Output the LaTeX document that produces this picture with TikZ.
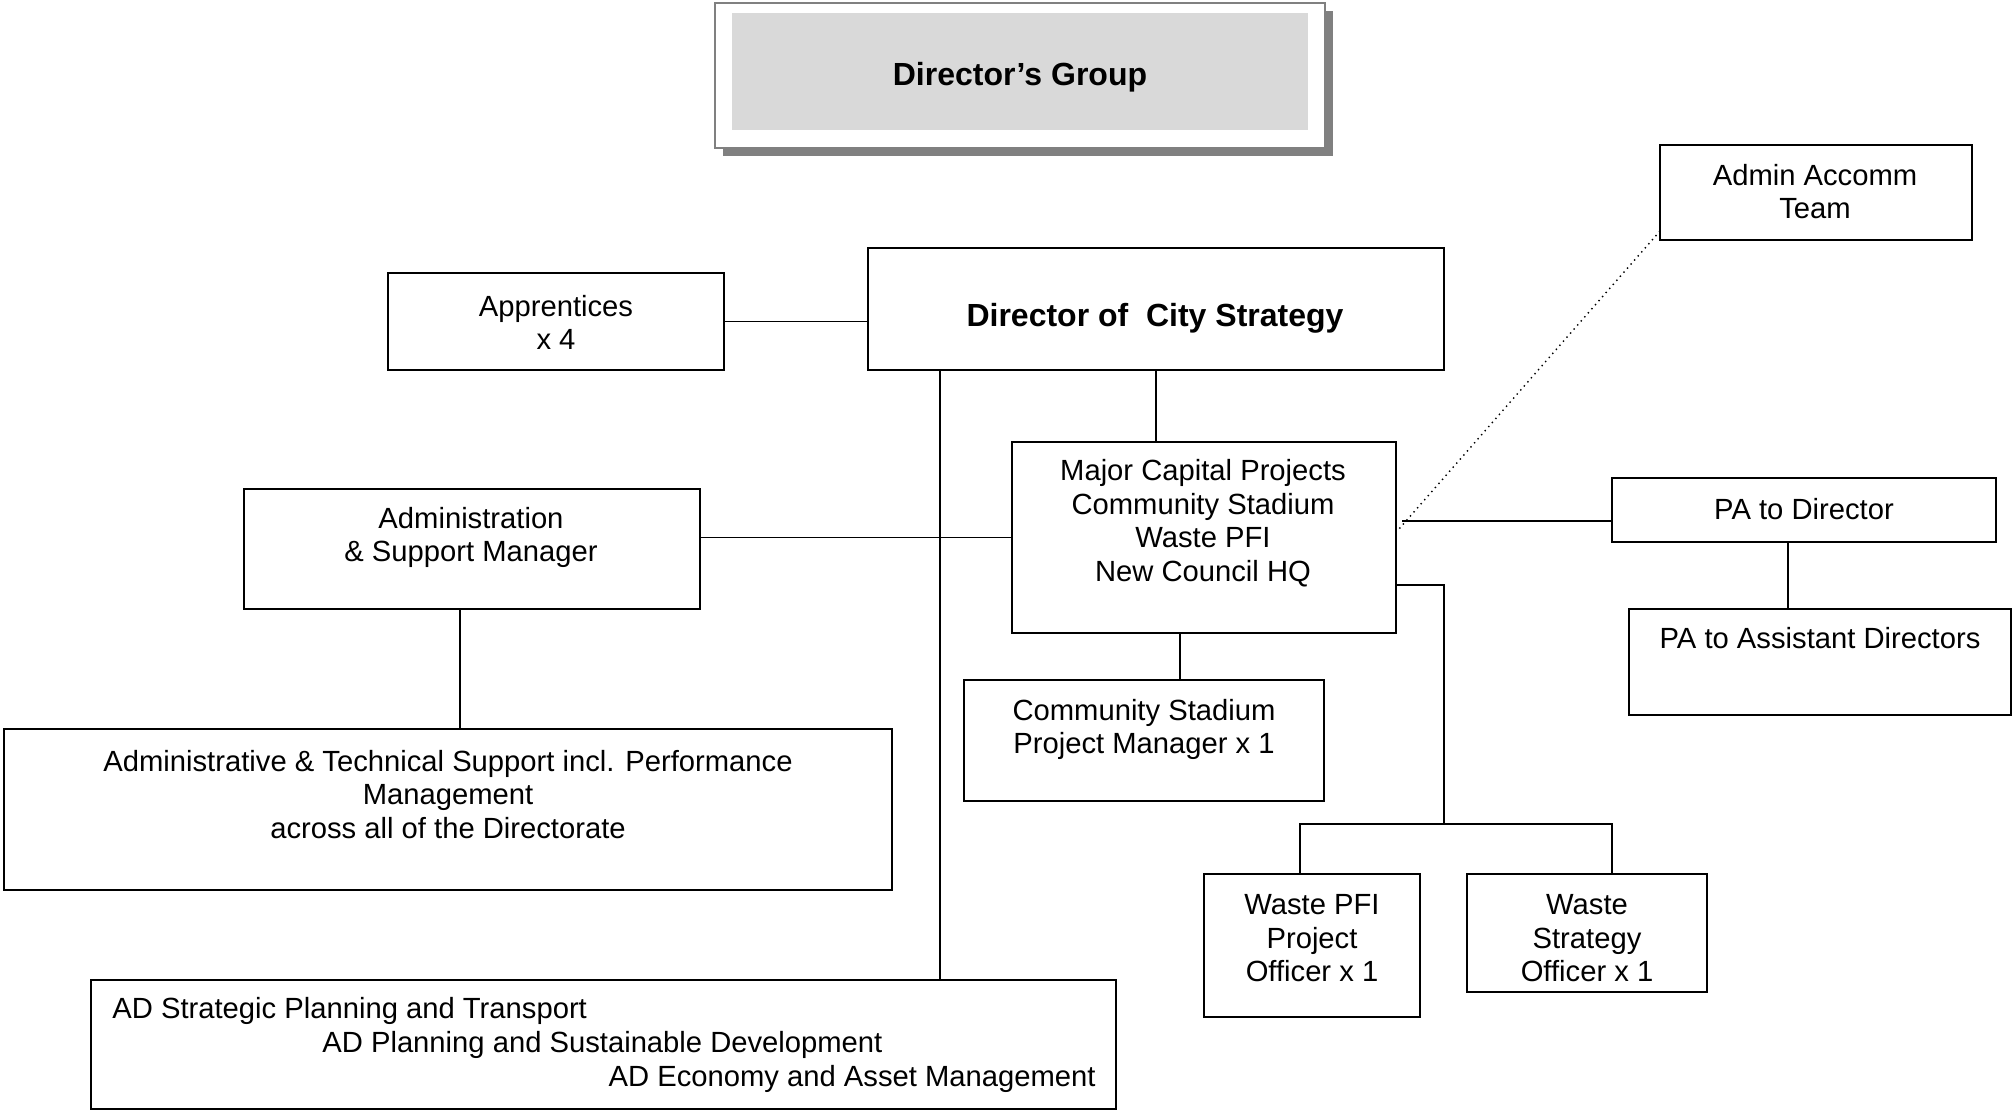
\documentclass[tikz,border=0pt]{standalone}
\usepackage{fontspec}
\setmainfont{Liberation Sans}
\usetikzlibrary{calc}
\begin{document}
\begin{tikzpicture}[x=0.5pt,y=-0.5pt,
  box/.style={draw=black, line width=1pt, inner sep=0pt, fill=white},
  txt/.style={align=center, inner sep=0pt, yshift=-1.6pt, font=\fontsize{14.6}{16.7}\selectfont},
  btxt/.style={align=center, inner sep=0pt, yshift=-1.4pt, font=\fontsize{16}{18}\selectfont\bfseries},
  conn/.style={line width=0.95pt, draw=black}]
\useasboundingbox (0,0) rectangle (2013,1111);
% Director's Group
\fill[black!50] (723,11) rectangle (1333,156);
\node[draw=black!50, line width=1pt, fill=white, inner sep=0pt, minimum width=305pt, minimum height=72.5pt] (grp) at (1020,75.5) {};
\node[fill=black!15, inner sep=0pt, minimum width=288pt, minimum height=58.5pt] (grpin) at (1020,71.5) {};
\node[btxt] (grpT) at (1020,74) {Director’s Group};
% boxes
\node[box, minimum width=168pt, minimum height=48.5pt] (appr) at (556,321.5) {};
\node[box, minimum width=288pt, minimum height=61pt] (dir) at (1156,309) {};
\node[box, minimum width=192pt, minimum height=95.5pt] (major) at (1204,537.5) {};
\node[box, minimum width=228pt, minimum height=60pt] (adm) at (472,549) {};
\node[box, minimum width=444pt, minimum height=80.5pt] (ats) at (448,809.5) {};
\node[box, minimum width=180pt, minimum height=60.5pt] (csp) at (1144,740.5) {};
\node[box, minimum width=192pt, minimum height=32pt] (pad) at (1804,510) {};
\node[box, minimum width=191pt, minimum height=53pt] (paad) at (1819.5,662) {};
\node[box, minimum width=156pt, minimum height=47.5pt] (aat) at (1816,192.5) {};
\node[box, minimum width=108pt, minimum height=71.5pt] (wpfi) at (1312,945.5) {};
\node[box, minimum width=120pt, minimum height=59pt] (ws) at (1587,933) {};
\node[box, minimum width=512.5pt, minimum height=64.5pt] (ad) at (603.5,1044.5) {};
% texts
\node[txt] (apprT) at (556,319) {Apprentices\\x 4};
\node[btxt] (dirT) at (1155,316) {Director of\ \ City Strategy};
\node[txt] (majorT) at (1203,520) {Major Capital Projects\\Community Stadium\\Waste PFI\\New Council HQ};
\node[txt] (admT) at (471,534) {Administration\\\& Support Manager};
\node[txt] (atsT) at (448,791) {Administrative \& Technical Support incl. Performance\\Management\\across all of the Directorate};
\node[txt] (cspT) at (1144,726.5) {Community Stadium\\Project Manager x 1};
\node[txt] (padT) at (1804,506) {PA to Director};
\node[txt] (paadT) at (1820,635) {PA to Assistant Directors};
\node[txt] (aatT) at (1815,188.5) {Admin Accomm\\Team};
\node[txt] (wpfiT) at (1312,935) {Waste PFI\\Project\\Officer x 1};
\node[txt] (wsT) at (1587,935) {Waste\\Strategy\\Officer x 1};
\node[txt, anchor=west] (ad1) at (112,1008) {AD Strategic Planning and Transport};
\node[txt, anchor=west] (ad2) at (322,1042) {AD Planning and Sustainable Development};
\node[txt, anchor=east] (ad3) at (1096,1076) {AD Economy and Asset Management};
% connector points
\coordinate (v1) at (940,370);
\coordinate (v2) at (460,609);
\coordinate (v3) at (1180,633);
\coordinate (r1) at (1402,521);
\coordinate (r2) at (1396,585);
\coordinate (r3) at (1444,824);
\coordinate (w1) at (1300,824);
\coordinate (w2) at (1612,824);
\coordinate (p1) at (1788,542);
\coordinate (d1) at (1660,231);
\coordinate (d2) at (1399,529);
% connectors
\draw[conn] (appr.east) -- (appr.east -| dir.west);
\draw[conn] (v1) -- (v1 |- ad.north);
\draw[conn] (dir.south) -- (dir.south |- major.north);
\draw[conn] (major.west) -- (major.west -| adm.east);
\draw[conn] (v2) -- (v2 |- ats.north);
\draw[conn] (v3) -- (v3 |- csp.north);
\draw[conn] (r1) -- (r1 -| pad.west);
\draw[conn] (r2) -| (r3);
\draw[conn] (w1 |- wpfi.north) -- (w1) -- (w2) -- (w2 |- ws.north);
\draw[conn] (p1) -- (p1 |- paad.north);
\draw[line width=0.7pt, dotted] (d1) -- (d2);
\end{tikzpicture}
\end{document}
